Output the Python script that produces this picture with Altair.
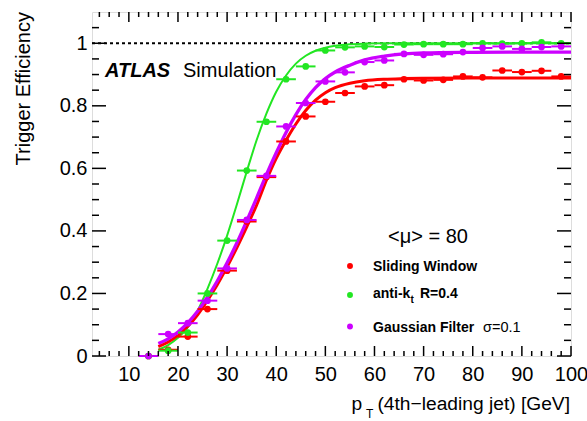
import altair as alt
import pandas as pd

# ---------------- data ----------------
pt = [14, 18, 22, 26, 30, 34, 38, 42, 46, 50, 54, 58, 62, 66, 70, 74, 78, 82, 86, 90, 94, 98]
bin_half = 2
eff_sliding = [0.0, 0.02, 0.062, 0.15, 0.273, 0.43, 0.572, 0.686, 0.766, 0.813, 0.841, 0.862,
               0.866, 0.885, 0.881, 0.883, 0.894, 0.891, 0.913, 0.908, 0.912, 0.894]
eff_antikt = [0.0, 0.017, 0.075, 0.2, 0.369, 0.593, 0.749, 0.885, 0.926, 0.977, 0.987, 0.99,
              0.988, 0.996, 0.997, 0.997, 0.997, 1.0, 0.999, 1.0, 1.003, 1.0]
eff_gauss = [0.0, 0.07, 0.105, 0.177, 0.28, 0.435, 0.576, 0.734, 0.809, 0.878, 0.907, 0.94,
             0.945, 0.966, 0.963, 0.965, 0.972, 0.985, 0.99, 0.982, 0.988, 0.99]

fit_pt = [16, 18, 20, 22, 24, 26, 28, 30, 32, 34, 36, 38, 40, 42, 44, 46, 48, 50, 52, 55, 58,
          62, 66, 70, 80, 90, 100]
fit_sliding = [0.03, 0.045, 0.066, 0.095, 0.132, 0.178, 0.228, 0.285, 0.347, 0.413, 0.482, 0.562,
               0.632, 0.69, 0.742, 0.785, 0.818, 0.842, 0.858, 0.872, 0.88, 0.885, 0.887, 0.888,
               0.889, 0.889, 0.889]
fit_antikt = [0.02, 0.035, 0.058, 0.092, 0.145, 0.215, 0.295, 0.385, 0.485, 0.59, 0.69, 0.775,
              0.845, 0.897, 0.935, 0.96, 0.976, 0.986, 0.992, 0.997, 0.999, 1.0, 1.0, 1.0, 1.0,
              1.0, 1.0]
fit_gauss = [0.04, 0.055, 0.077, 0.106, 0.143, 0.188, 0.24, 0.298, 0.362, 0.432, 0.505, 0.58,
             0.65, 0.715, 0.772, 0.82, 0.858, 0.887, 0.908, 0.93, 0.947, 0.959, 0.966, 0.969,
             0.971, 0.972, 0.972]

series = ["Sliding Window", "anti-kt R=0.4", "Gaussian Filter"]
colors = ["#ff0000", "#22e622", "#cc00ff"]
line_widths = [3, 2, 3.3]

x_major = [10, 20, 30, 40, 50, 60, 70, 80, 90, 100]
x_minor = [v for v in range(4, 100, 2) if v % 10 != 0]
y_major = [0, 0.2, 0.4, 0.6, 0.8, 1.0]
y_minor = [0.05, 0.1, 0.15, 0.25, 0.3, 0.35, 0.45, 0.5, 0.55, 0.65, 0.7, 0.75, 0.85, 0.9, 0.95,
           1.05]

mu_text = "<\u03bc> = 80"
x_title = "(4th\u2212leading jet) [GeV]"
y_title = "Trigger Efficiency"

# ---------------- chart ----------------
W, H = 479, 344
FONT = "Liberation Sans"
xs = alt.Scale(domain=[2.5, 100], nice=False, zero=False)
ys = alt.Scale(domain=[0, 1.1], nice=False, zero=False)

pts = pd.DataFrame({
    "pt": pt * 3,
    "eff": eff_sliding + eff_antikt + eff_gauss,
    "algo": [series[0]] * len(pt) + [series[1]] * len(pt) + [series[2]] * len(pt),
})
pts["lo"] = pts["pt"] - bin_half
pts["hi"] = pts["pt"] + bin_half
fits = {
    series[0]: pd.DataFrame({"pt": fit_pt, "eff": fit_sliding}),
    series[1]: pd.DataFrame({"pt": fit_pt, "eff": fit_antikt}),
    series[2]: pd.DataFrame({"pt": fit_pt, "eff": fit_gauss}),
}
cscale = alt.Scale(domain=series, range=colors)

layers = []

# base layer carrying the axes (labels only)
base = alt.Chart(pts).mark_point(opacity=0).encode(
    x=alt.X("pt:Q", scale=xs, axis=alt.Axis(values=x_major, title=None, ticks=False, domain=False,
                                            grid=False, labelFontSize=20, labelFont=FONT,
                                            labelColor="black", labelPadding=8, labelFlush=False,
                                            labelOverlap=False)),
    y=alt.Y("eff:Q", scale=ys, axis=alt.Axis(values=y_major, title=None, ticks=False, domain=False,
                                             grid=False, labelFontSize=20, labelFont=FONT,
                                             labelColor="black", labelPadding=5, format="~g",
                                             labelOverlap=False)),
)
layers.append(base)

# dotted reference line at 1
layers.append(
    alt.Chart(pd.DataFrame({"v": [1.0]})).mark_rule(color="black", strokeWidth=2, strokeDash=[3, 3])
    .encode(y=alt.Y("v:Q", scale=ys), x=alt.value(0), x2=alt.value(W))
)

# fit curves
for name, col, lw in [(series[1], colors[1], line_widths[1]),
                      (series[0], colors[0], line_widths[0]),
                      (series[2], colors[2], line_widths[2])]:
    layers.append(
        alt.Chart(fits[name]).mark_line(color=col, strokeWidth=lw, interpolate="monotone")
        .encode(x=alt.X("pt:Q", scale=xs), y=alt.Y("eff:Q", scale=ys))
    )

# horizontal error bars and points
layers.append(
    alt.Chart(pts).mark_rule(strokeWidth=2).encode(
        x=alt.X("lo:Q", scale=xs), x2="hi:Q", y=alt.Y("eff:Q", scale=ys),
        color=alt.Color("algo:N", scale=cscale, legend=None))
)
layers.append(
    alt.Chart(pts).mark_circle(size=45, opacity=1).encode(
        x=alt.X("pt:Q", scale=xs), y=alt.Y("eff:Q", scale=ys),
        color=alt.Color("algo:N", scale=cscale, legend=None))
)

# inward ticks on all four sides
def tick_layer(vals, orient, length):
    df = pd.DataFrame({"v": vals})
    m = alt.Chart(df).mark_rule(color="black", strokeWidth=1.5)
    if orient == "bottom":
        return m.encode(x=alt.X("v:Q", scale=xs), y=alt.value(H), y2=alt.value(H - length))
    if orient == "top":
        return m.encode(x=alt.X("v:Q", scale=xs), y=alt.value(0), y2=alt.value(length))
    if orient == "left":
        return m.encode(y=alt.Y("v:Q", scale=ys), x=alt.value(0), x2=alt.value(length))
    return m.encode(y=alt.Y("v:Q", scale=ys), x=alt.value(W), x2=alt.value(W - length))

layers += [tick_layer(x_major, "bottom", 10), tick_layer(x_minor, "bottom", 5),
           tick_layer(x_major, "top", 10), tick_layer(x_minor, "top", 5),
           tick_layer(y_major, "left", 14), tick_layer(y_minor, "left", 7),
           tick_layer(y_major, "right", 14), tick_layer(y_minor, "right", 7)]


def text_layer(txt, x, y, size=20, weight="normal", style="normal", align="left",
               baseline="alphabetic", angle=0):
    return alt.Chart(pd.DataFrame({"t": [txt]})).mark_text(
        font=FONT, fontSize=size, fontWeight=weight, fontStyle=style, align=align,
        baseline=baseline, angle=angle, color="black"
    ).encode(text="t:N", x=alt.value(x), y=alt.value(y))

# ATLAS label
layers.append(text_layer("ATLAS", 13, 65, size=20, weight="bold", style="italic"))
layers.append(text_layer("Simulation", 91, 65, size=20))
layers.append(text_layer(mu_text, 336, 231, size=20, align="center"))

# legend
leg_y = [254, 283, 314.5]
for i, (name, col) in enumerate(zip(series, colors)):
    layers.append(
        alt.Chart(pd.DataFrame({"a": [name]})).mark_circle(size=35, opacity=1, color=col)
        .encode(x=alt.value(258), y=alt.value(leg_y[i]))
    )
layers.append(text_layer("Sliding Window", 281, 259, size=14, weight="bold"))
layers.append(text_layer("anti-k", 281, 286, size=14, weight="bold"))
layers.append(text_layer("t", 318.5, 290.5, size=10, weight="bold"))
layers.append(text_layer("R=0.4", 328, 286, size=14, weight="bold"))
layers.append(text_layer("Gaussian Filter", 281, 319.5, size=14, weight="bold"))
layers.append(text_layer("\u03c3=0.1", 391, 319.5, size=14.5))

# axis titles
layers.append(text_layer(x_title, 478, 398, size=19.2, align="right"))
layers.append(text_layer("p", 259.5, 398, size=19.2))
layers.append(text_layer("T", 274, 406, size=12))
layers.append(text_layer(y_title, -68, 0, size=20, align="right", baseline="middle", angle=270))

chart = alt.layer(*layers).properties(
    width=W, height=H,
    autosize=alt.AutoSizeParams(type="none"),
    padding={"left": 92, "top": 12, "right": 16, "bottom": 65},
).configure_view(stroke="black", strokeWidth=2).configure(background="white")

chart.save("out.html", embed_options={"renderer": "svg", "actions": False})
